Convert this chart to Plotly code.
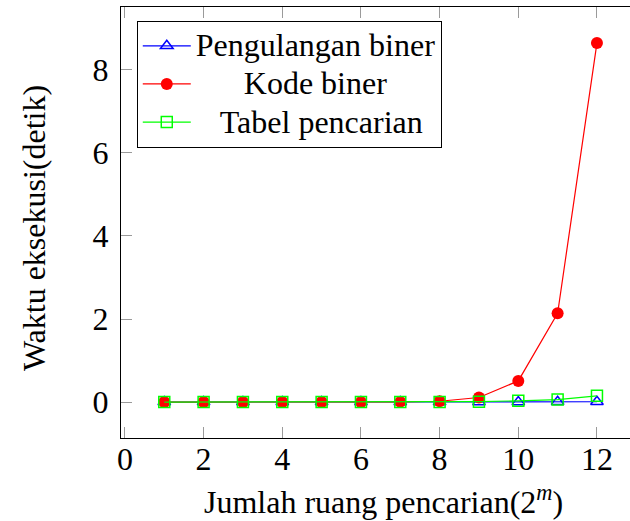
import plotly.graph_objects as go

x_vals = [1, 2, 3, 4, 5, 6, 7, 8, 9, 10, 11, 12]
pengulangan_biner = [0.0, 0.0, 0.0, 0.0, 0.0, 0.0, 0.0, 0.0, 0.002, 0.004, 0.006, 0.008]
kode_biner = [0.0, 0.0, 0.0, 0.0, 0.0, 0.0, 0.005, 0.02, 0.11, 0.51, 2.14, 8.65]
tabel_pencarian = [0.0, 0.0, 0.0, 0.0, 0.0, 0.0, 0.0, 0.005, 0.01, 0.03, 0.06, 0.15]
x_ticks = [0, 2, 4, 6, 8, 10, 12]
y_ticks = [0, 2, 4, 6, 8]
series_names = ["Pengulangan biner", "Kode biner", "Tabel pencarian"]

FONT = "Liberation Serif"
FS = 32
NB = "\u00a0"


def legend_label(text, pad):
    return "<span style='font-size:32px'>" + NB * pad + text + "</span>"


fig = go.Figure()
fig.add_trace(go.Scatter(
    x=x_vals, y=pengulangan_biner, mode="lines+markers", name=legend_label(series_names[0], 0),
    line=dict(color="#0000ff", width=1.2),
    marker=dict(symbol="triangle-up-open", size=11, color="#0000ff", line=dict(width=1.5, color="#0000ff")),
))
fig.add_trace(go.Scatter(
    x=x_vals, y=kode_biner, mode="lines+markers", name=legend_label(series_names[1], 6),
    line=dict(color="#ff0000", width=1.2),
    marker=dict(symbol="circle", size=12, color="#ff0000"),
))
fig.add_trace(go.Scatter(
    x=x_vals, y=tabel_pencarian, mode="lines+markers", name=legend_label(series_names[2], 3),
    line=dict(color="#00ff00", width=1.2),
    marker=dict(symbol="square-open", size=11, color="#00ff00", line=dict(width=1.5, color="#00ff00")),
))

fig.update_layout(
    width=630, height=521,
    margin=dict(l=121, r=0, t=7, b=83),
    paper_bgcolor="white", plot_bgcolor="white",
    font=dict(family=FONT, size=FS, color="black"),
    showlegend=True,
    legend=dict(
        x=0.031, y=0.968, xanchor="left", yanchor="top",
        bgcolor="white", bordercolor="black", borderwidth=1,
        font=dict(family=FONT, size=27, color="black"),
        itemwidth=48, tracegroupgap=0,
    ),
    xaxis=dict(
        range=[-0.1, 12.84], tickvals=x_ticks, ticks="inside", ticklen=11,
        tickcolor="#9a9a9a", tickwidth=1.2, showgrid=False, zeroline=False,
        showline=True, linecolor="black", linewidth=1.3, mirror="ticks",
        tickfont=dict(family=FONT, size=FS), ticklabelstandoff=-8,
    ),
    yaxis=dict(
        range=[-0.865, 9.515], tickvals=y_ticks, ticks="inside", ticklen=11,
        tickcolor="#9a9a9a", tickwidth=1.2, showgrid=False, zeroline=False,
        showline=True, linecolor="black", linewidth=1.3, mirror=False,
        tickfont=dict(family=FONT, size=FS), ticklabelstandoff=5,
    ),
    annotations=[
        dict(text="Jumlah ruang pencarian(2<sup><i>m</i></sup>)", xref="paper", yref="paper",
             x=0.516, y=-0.145, xanchor="center", yanchor="middle", showarrow=False,
             font=dict(family=FONT, size=FS)),
        dict(text="Waktu eksekusi(detik)", xref="paper", yref="paper",
             x=-0.171, y=0.487, xanchor="center", yanchor="middle", showarrow=False,
             textangle=-90, font=dict(family=FONT, size=FS)),
    ],
)

fig.write_html("out.html")
